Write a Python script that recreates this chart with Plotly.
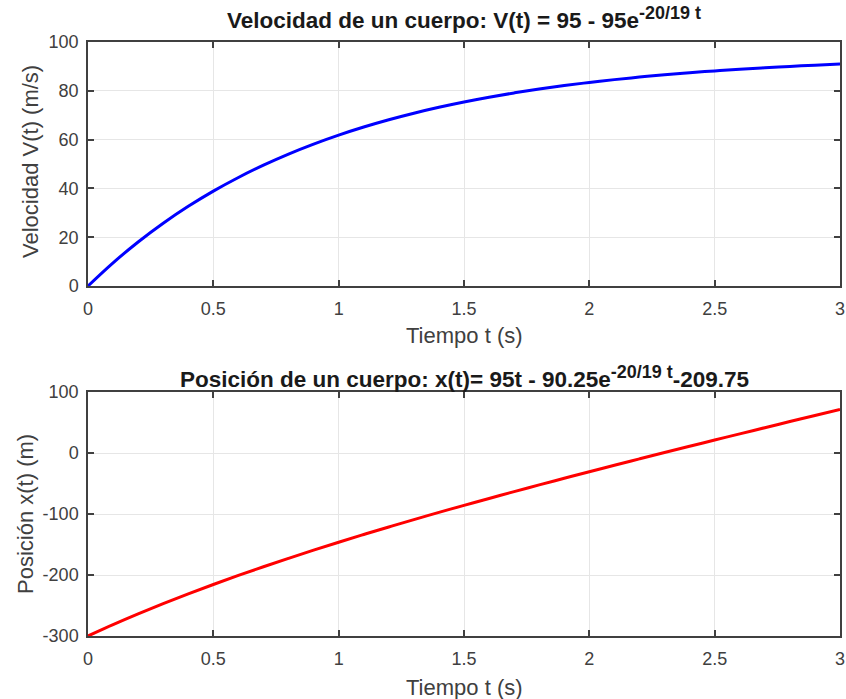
import plotly.graph_objects as go

t = [0.0, 0.1, 0.2, 0.3, 0.4, 0.5, 0.6, 0.7, 0.8, 0.9, 1.0, 1.1, 1.2, 1.3, 1.4, 1.5,
     1.6, 1.7, 1.8, 1.9, 2.0, 2.1, 2.2, 2.3, 2.4, 2.5, 2.6, 2.7, 2.8, 2.9, 3.0]
velocity = [0.0, 9.49, 18.04, 25.73, 32.65, 38.88, 44.48, 49.53, 54.07, 58.16, 61.84,
            65.16, 68.14, 70.82, 73.24, 75.41, 77.37, 79.13, 80.72, 82.14, 83.43,
            84.58, 85.62, 86.56, 87.40, 88.16, 88.85, 89.46, 90.01, 90.51, 90.96]
position = [-300.0, -281.48, -263.87, -247.06, -230.98, -215.57, -200.74, -186.45,
            -172.63, -159.25, -146.25, -133.60, -121.27, -109.22, -97.42, -85.86,
            -74.50, -63.33, -52.32, -41.46, -30.74, -20.15, -9.66, 0.73, 11.03,
            21.25, 31.40, 41.49, 51.51, 61.49, 71.41]

x_ticks = [0, 0.5, 1, 1.5, 2, 2.5, 3]
x_tick_labels = ["0", "0.5", "1", "1.5", "2", "2.5", "3"]
v_ticks = [0, 20, 40, 60, 80, 100]
v_tick_labels = ["0", "20", "40", "60", "80", "100"]
p_ticks = [-300, -200, -100, 0, 100]
p_tick_labels = ["-300", "-200", "-100", "0", "100"]

W, H = 846, 699
FONT = "Liberation Sans, Arial, sans-serif"
AX = "#404040"

fig = go.Figure()
fig.add_trace(go.Scatter(x=t, y=velocity, mode="lines", line=dict(color="#0000ff", width=3, shape="spline"),
                         xaxis="x", yaxis="y", showlegend=False, cliponaxis=False))
fig.add_trace(go.Scatter(x=t, y=position, mode="lines", line=dict(color="#ff0000", width=3, shape="spline"),
                         xaxis="x2", yaxis="y2", showlegend=False, cliponaxis=False))

def px_x(p):
    return p / W

def px_y(p):
    return 1 - p / H

common_x = dict(range=[0, 3], tickvals=x_ticks, ticktext=x_tick_labels, showgrid=True,
                gridcolor="#e6e6e6", gridwidth=1, showline=True, linecolor=AX, linewidth=1.5,
                mirror="allticks", ticks="inside", ticklen=6, tickcolor=AX, tickwidth=1.5,
                tickfont=dict(family=FONT, size=18, color=AX), zeroline=False, fixedrange=True,
                ticklabelstandoff=6)
common_y = dict(showgrid=True, gridcolor="#e6e6e6", gridwidth=1, showline=True, linecolor=AX,
                linewidth=1.5, mirror="allticks", ticks="inside", ticklen=6, tickcolor=AX,
                tickwidth=1.5, tickfont=dict(family=FONT, size=18, color=AX), zeroline=False,
                fixedrange=True, ticklabelstandoff=4)

fig.update_layout(
    width=W, height=H,
    margin=dict(l=0, r=0, t=0, b=0, autoexpand=False),
    paper_bgcolor="white", plot_bgcolor="white",
    xaxis=dict(domain=[px_x(88), px_x(840)], anchor="y", **common_x),
    yaxis=dict(domain=[px_y(286), px_y(42)], anchor="x", range=[0, 100], tickvals=v_ticks,
               ticktext=v_tick_labels, **common_y),
    xaxis2=dict(domain=[px_x(88), px_x(840)], anchor="y2", **common_x),
    yaxis2=dict(domain=[px_y(636), px_y(392)], anchor="x2", range=[-300, 100], tickvals=p_ticks,
                ticktext=p_tick_labels, **common_y),
    font=dict(family=FONT, color=AX),
)

SUP = '<sup><span style="font-size:18px">-20/19 t</span></sup>'
ann = [
    dict(text="<b>Velocidad de un cuerpo: V(t) = 95 - 95e" + SUP + "</b>", x=464, y=18,
         size=22.5, color="#1a1a1a", angle=0),
    dict(text="Tiempo t (s)", x=464, y=335, size=22, color=AX, angle=0),
    dict(text="Velocidad V(t) (m/s)", x=30, y=162, size=22, color=AX, angle=-90),
    dict(text="<b>Posición de un cuerpo: x(t)= 95t - 90.25e" + SUP + "-209.75</b>", x=464, y=377,
         size=22.5, color="#1a1a1a", angle=0),
    dict(text="Tiempo t (s)", x=464, y=687, size=22, color=AX, angle=0),
    dict(text="Posición x(t) (m)", x=25, y=514, size=22, color=AX, angle=-90),
]
for a in ann:
    fig.add_annotation(xref="paper", yref="paper", showarrow=False, xanchor="center", yanchor="middle",
                       text=a["text"], x=px_x(a["x"]), y=px_y(a["y"]), textangle=a["angle"],
                       font=dict(family=FONT, size=a["size"], color=a["color"]))

fig.write_html("out.html", config={"displayModeBar": False},
               post_script="document.body.style.margin='0';document.body.style.overflow='hidden';")
